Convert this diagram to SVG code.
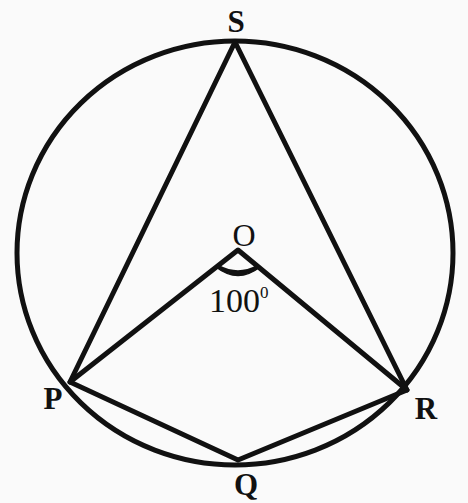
<svg xmlns="http://www.w3.org/2000/svg" width="468" height="503" viewBox="0 0 468 503">
<style>
.l{stroke:#111;stroke-width:5;fill:none;stroke-linecap:round;stroke-linejoin:round}
.t{font-family:"Liberation Serif","Times New Roman",serif;font-size:31px;font-weight:bold;fill:#111}
.n{font-weight:normal}
</style>
<rect width="468" height="503" fill="#fafafa"/>
<g id="circle"><ellipse class="l" cx="235" cy="253" rx="218" ry="212"/></g>
<g id="connectors">
<path class="l" d="M235 42 L70 382 L238 460 L407 390 Z"/>
<path class="l" d="M70 382 L238 250 L407 390"/>
<path d="M216 267 Q238 284 260 267 L257 266 Q238 276 219 266 Z" fill="#111" stroke="#111" stroke-width="1.5" stroke-linejoin="round"/>
</g>
<g id="S"><text class="t" x="236" y="32" text-anchor="middle">S</text></g>
<g id="O"><text class="t n" x="244" y="246" text-anchor="middle" style="font-size:32px">O</text></g>
<g id="P"><text class="t" x="53" y="409" text-anchor="middle">P</text></g>
<g id="R"><text class="t" x="426" y="419" text-anchor="middle">R</text></g>
<g id="Q"><text class="t" x="246" y="495" text-anchor="middle">Q</text></g>
<g id="angle"><text class="t n" x="209" y="312" style="font-size:34px">100<tspan font-size="17" dy="-14">0</tspan></text></g>
</svg>
